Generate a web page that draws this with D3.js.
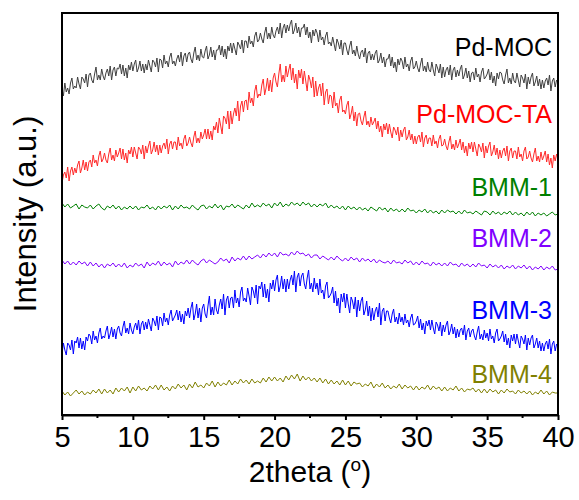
<!DOCTYPE html>
<html>
<head>
<meta charset="utf-8">
<script src="https://cdn.jsdelivr.net/npm/d3@7"></script>
<style>
  html, body { margin: 0; padding: 0; background: #fff; }
  svg { display: block; font-family: "Liberation Sans", Arial, sans-serif; }
</style>
</head>
<body>
<svg id="chart" width="579" height="500"></svg>
<script>
// ---- DATA (2theta from 5° to 40°; intensity in arbitrary units, offset-stacked) ----
const thetaStart = 5;
const xTicks = [5, 10, 15, 20, 25, 30, 35, 40];
const seriesNames = ["Pd-MOC", "Pd-MOC-TA", "BMM-1", "BMM-2", "BMM-3", "BMM-4"];
const seriesSteps = [0.1, 0.1, 0.2, 0.2, 0.1, 0.2];
const seriesColors = ["#404040", "#ff2a2a", "#008000", "#8000ff", "#0000ff", "#808000"];
const labelColors = ["#000000", "#ff0000", "#008000", "#8000ff", "#0000ff", "#808000"];

const pdMOC = [
326,319,332,323,327,321,332,337,326,329, 327,338,331,326,338,336,332,341,328,340,
342,335,332,341,348,335,340,335,346,339, 335,342,346,339,349,335,345,348,339,347,
346,351,341,350,339,347,337,350,345,353, 344,351,355,343,347,354,344,351,342,351,
345,355,349,343,355,353,348,357,343,356, 355,347,360,351,354,348,358,362,351,354,
349,356,360,353,363,349,359,362,353,361, 363,356,352,362,368,355,360,354,366,358,
357,364,369,356,360,368,358,365,355,365, 365,370,360,369,358,366,356,369,364,372,
362,372,366,360,373,370,366,375,362,374, 374,367,379,371,374,368,379,383,373,375,
382,376,372,382,388,376,382,376,388,380, 377,384,388,381,392,377,387,391,382,390,
384,391,395,381,385,392,382,388,378,387, 387,391,380,388,377,383,372,385,379,386,
382,373,385,375,378,370,379,383,371,373, 369,378,371,364,376,372,366,375,360,372,
372,365,360,369,374,361,365,359,369,361, 356,363,365,358,367,352,362,364,355,361,
355,362,365,352,355,362,352,358,348,356, 356,361,349,358,347,353,343,356,350,357,
354,346,358,348,351,344,354,358,346,348, 354,347,343,351,357,344,349,343,353,345,
343,353,345,339,351,347,342,351,337,348, 338,345,348,340,350,335,345,348,338,345,
339,346,350,336,340,347,337,344,333,342, 343,335,347,338,341,333,343,347,336,338,
341,346,335,343,332,339,329,342,336,343, 342,335,331,340,346,332,337,331,342,334,
332,342,335,328,340,337,332,341,326,338, 331,338,342,329,333,339,329,336,326,335,
327,334,337,330,340,324,334,337,328,335, 332];

const pdMOCTA = [
232,240,243,237,248,234,244,248,240,247, 242,250,254,242,247,255,245,253,244,253,
255,248,260,252,255,249,259,264,253,256, 262,255,252,261,267,255,260,254,265,258,
262,267,256,266,255,262,252,265,261,268, 258,268,262,256,268,266,261,270,256,269,
262,269,274,261,265,273,263,270,260,270, 262,269,272,266,276,261,271,274,266,273,
273,265,278,269,272,266,276,280,269,272, 278,272,268,278,284,272,277,272,283,276,
280,286,276,286,276,284,275,289,285,293, 282,297,289,281,299,297,291,304,286,304,
291,301,307,299,314,294,309,314,303,314, 315,305,323,312,317,309,324,330,317,321,
319,330,336,320,327,337,324,335,323,337, 342,333,328,341,351,333,340,333,349,338,
345,351,335,347,332,341,326,345,337,346, 331,344,334,324,340,335,327,338,318,334,
319,327,331,319,332,310,323,326,311,320, 319,307,323,309,312,302,315,319,303,305,
301,310,314,296,301,309,294,303,289,301, 302,294,290,298,304,290,294,288,298,290,
293,297,286,294,283,289,278,291,285,292, 281,291,283,277,288,285,280,288,274,285,
278,285,288,275,278,285,275,281,271,279, 271,278,280,273,283,268,277,280,271,277,
277,269,280,271,274,267,276,280,269,270, 276,269,265,273,279,266,271,265,275,267,
271,276,265,273,262,269,259,272,266,273, 263,273,266,259,271,268,263,272,257,269,
262,269,273,259,263,270,260,267,256,265, 257,264,267,259,269,254,264,267,257,264,
264,256,268,258,261,254,264,268,256,258, 264,257,253,261,267,254,259,253,263,255,
259,264,253,261,250,257,247,260,254,261, 255];

const bmm1 = [
212,208,211,207,209, 211,206,210,208,207, 210,206,209,211,207, 205,209,207,210,206,
209,205,208,206,209, 206,209,205,208,207, 210,206,208,205,209, 206,209,207,210,205,
209,206,210,207,208, 206,210,207,205,209, 210,206,209,207,211, 207,210,205,209,208,
211,207,210,208,206, 210,207,212,208,210, 208,212,209,211,207, 212,209,213,208,211,
209,213,210,212,209, 213,210,212,208,211, 208,211,209,212,207, 210,207,209,206,209,
205,209,206,208,205, 208,205,207,204,208, 206,204,208,205,207, 203,207,204,206,203,
206,203,207,204,205, 202,205,203,206,202, 205,202,204,201,205, 202,205,203,204,201,
204,201,205,202,203, 201,204,202,200,204, 203,200,204,201,203, 200,203,201,204,200,
203,200,202,199,203, 200,203,199,202,200, 202,199,201,203,200, 201];

const bmm2 = [
155,151,154,150,153, 150,154,151,153,149, 153,149,152,148,151, 147,151,149,152,148,
151,148,152,147,150, 148,152,149,151,147, 153,149,152,150,154, 149,153,150,152,148,
154,150,153,151,155, 151,155,152,150,154, 156,152,155,153,151, 153,157,154,156,152,
158,154,157,155,159, 155,159,156,158,160, 157,161,158,162,159, 162,158,163,160,161,
159,163,160,164,161, 162,159,161,157,160, 160,156,159,157,155, 158,155,159,156,154,
157,154,158,155,157, 153,157,154,156,153, 156,152,155,153,152, 154,151,155,152,153,
151,155,152,154,150, 153,150,154,151,152, 149,153,150,152,149, 152,149,153,150,151,
148,152,149,151,148, 151,148,152,149,150, 147,151,148,150,147, 150,146,149,147,150,
146,149,147,150,146, 149,145,148,146,149, 145,148,146,149,145, 146];

const bmm3 = [
61,72,65,60,72,70,65,75,61,74, 72,78,67,77,66,74,65,78,74,81,
79,71,84,75,79,72,82,87,76,79, 77,84,89,76,81,88,78,86,76,86,
89,82,79,88,94,82,87,81,92,85, 81,88,92,85,95,81,91,94,85,93,
86,96,90,84,97,94,89,99,85,98, 97,89,102,93,97,90,100,105,94,97,
100,105,95,104,93,101,91,104,99,107, 97,107,113,95,101,111,97,107,93,107,
111,101,97,109,119,100,108,100,116,105, 101,110,116,106,121,100,115,119,107,117,
118,107,125,112,117,108,123,128,114,117, 113,127,119,110,128,124,117,130,111,129,
126,133,118,131,117,126,113,132,126,135, 124,135,140,123,129,139,126,136,123,136,
126,135,140,130,144,123,138,142,129,139, 142,131,126,137,145,126,132,123,137,126,
132,120,136,122,125,116,129,133,117,119, 122,128,112,124,109,117,102,121,113,122,
107,121,111,102,118,114,106,118,98,115, 104,114,118,100,105,114,99,109,94,107,
95,104,108,98,112,90,104,107,94,104, 104,97,92,101,106,93,98,91,102,93,
98,90,101,92,95,88,97,101,90,91, 94,99,87,96,85,92,81,94,89,95,
85,95,87,81,93,90,84,93,79,90, 83,90,94,80,84,91,81,88,77,86,
78,85,87,80,90,75,84,87,78,84, 86,79,75,83,89,76,81,75,85,77,
82,74,86,76,79,72,82,86,74,76, 79,84,73,81,70,77,67,80,74,81,
71,81,74,67,79,76,71,80,65,77, 70,77,80,67,71,77,67,74,64,72,
64,71,74,66,76,61,71,74,64,71, 68];

const bmm4 = [
24,20,23,19,22, 25,21,24,20,23, 21,25,22,26,21, 26,22,25,21,27,
23,27,24,28,22, 28,24,29,25,27, 24,29,26,30,25, 30,25,28,24,29,
26,31,27,30,25, 31,27,33,28,30, 27,32,29,34,28, 33,29,32,30,35,
30,34,31,36,32, 35,31,36,32,34, 32,37,33,38,34, 38,34,37,33,39,
35,40,36,41,34, 39,35,38,34,37, 33,37,32,36,31, 35,31,34,30,35,
30,34,29,33,31, 32,28,31,29,33, 27,31,28,32,27, 30,26,29,27,31,
26,30,27,29,25, 29,25,28,26,30, 25,29,26,28,24, 28,24,27,25,29,
24,27,23,26,25, 27,23,26,22,26, 22,26,23,25,21, 25,22,26,23,24,
21,25,22,24,21, 24,20,23,21,25, 21,24,20,23,22, 22];

const seriesValues = [pdMOC, pdMOCTA, bmm1, bmm2, bmm3, bmm4];
// label anchor intensity (same units as the series)
const labelLevels = [359, 292, 219, 168, 96, 32];

// ---- LAYOUT ----
const W = 579, H = 500;
const margin = { left: 62, right: 21, top: 13, bottom: 85 };
const svg = d3.select("#chart");
const x = d3.scaleLinear().domain([5, 40]).range([margin.left, W - margin.right]);
const y = d3.scaleLinear().domain([0, 402]).range([H - margin.bottom, margin.top]);

// series lines
svg.append("g").selectAll("path")
  .data(seriesValues)
  .join("path")
  .attr("d", (vals, si) => d3.line()
      .x((d, i) => x(thetaStart + i * seriesSteps[si]))
      .y(d => y(d))(vals))
  .attr("fill", "none")
  .attr("stroke", (d, i) => seriesColors[i])
  .attr("stroke-width", 1)
  .attr("stroke-linejoin", "round");

// series labels
svg.append("g").selectAll("text")
  .data(seriesNames)
  .join("text")
  .attr("x", x(40) - 6)
  .attr("y", (d, i) => y(labelLevels[i]))
  .attr("text-anchor", "end")
  .attr("font-size", 25)
  .attr("fill", (d, i) => labelColors[i])
  .text(d => d);

// frame
svg.append("rect")
  .attr("x", x(5)).attr("y", y(402))
  .attr("width", x(40) - x(5)).attr("height", y(0) - y(402))
  .attr("fill", "none").attr("stroke", "#000").attr("stroke-width", 2);

// bottom axis: major + minor ticks
const xAxis = d3.axisBottom(x).tickValues(xTicks).tickSize(5).tickSizeOuter(0).tickPadding(6);
const gx = svg.append("g").attr("transform", `translate(0,${y(0)})`).call(xAxis);
gx.select(".domain").attr("stroke-width", 2);
gx.selectAll(".tick line").attr("stroke-width", 2);
gx.selectAll(".tick text").attr("font-size", 29).attr("fill", "#000")
  .attr("font-family", "'Liberation Sans', Arial, sans-serif");

const minorTicks = xTicks.slice(0, -1).map(v => v + 2.5);
svg.append("g").selectAll("line")
  .data(minorTicks)
  .join("line")
  .attr("x1", d => x(d)).attr("x2", d => x(d))
  .attr("y1", y(0)).attr("y2", y(0) + 3)
  .attr("stroke", "#000").attr("stroke-width", 2);

// axis titles
const xt = svg.append("text")
  .attr("x", (x(5) + x(40)) / 2)
  .attr("y", 482)
  .attr("text-anchor", "middle")
  .attr("font-size", 30)
  .attr("fill", "#000");
xt.append("tspan").text("2theta (");
xt.append("tspan").attr("font-size", 19).attr("dy", -11).text("o");
xt.append("tspan").attr("dy", 11).text(")");

svg.append("text")
  .attr("transform", `translate(36,${(y(0) + y(402)) / 2}) rotate(-90)`)
  .attr("text-anchor", "middle")
  .attr("font-size", 31)
  .attr("fill", "#000")
  .text("Intensity (a.u.)");
</script>
</body>
</html>
